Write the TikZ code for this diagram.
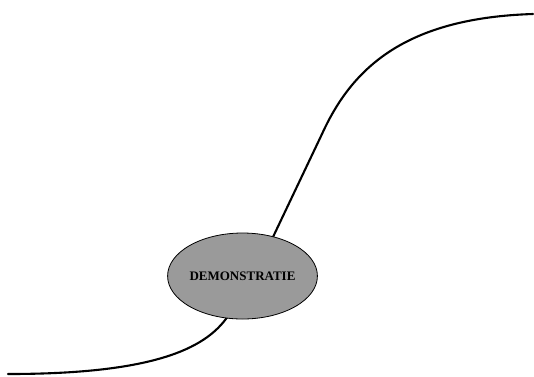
\documentclass[tikz,border=0pt]{standalone}
\usepackage{fontspec}
\setmainfont{Liberation Serif}
\usetikzlibrary{shapes.geometric,backgrounds}
\tikzset{
  topic/.style={ellipse, draw=black, line width=0.8pt, fill=gray60,
    minimum width=149pt, minimum height=86pt, inner sep=0pt,
    font=\fontsize{13}{15}\selectfont\bfseries},
  branch/.style={draw=black, line width=2.1pt, line cap=round, line join=round}
}
\definecolor{gray60}{HTML}{9A9A9A}
\begin{document}
\begin{tikzpicture}[x=1pt,y=-1pt]
\useasboundingbox (0,0) rectangle (534,376);
\node[topic] (e) at (242.5,276) {DEMONSTRATIE};
\coordinate (s) at (8,374);
\coordinate (t) at (533,14);
\coordinate (l1) at (228,316);
\coordinate (u1) at (273,237);
\coordinate (u2) at (322,134);
\begin{pgfonlayer}{background}
\draw[branch] (s) .. controls (150,374) and (205,350) .. (l1) -- (e.center);
\draw[branch] (e.center) -- (u1) -- (u2) .. controls (352,68) and (405,18) .. (t);
\end{pgfonlayer}
\end{tikzpicture}
\end{document}
